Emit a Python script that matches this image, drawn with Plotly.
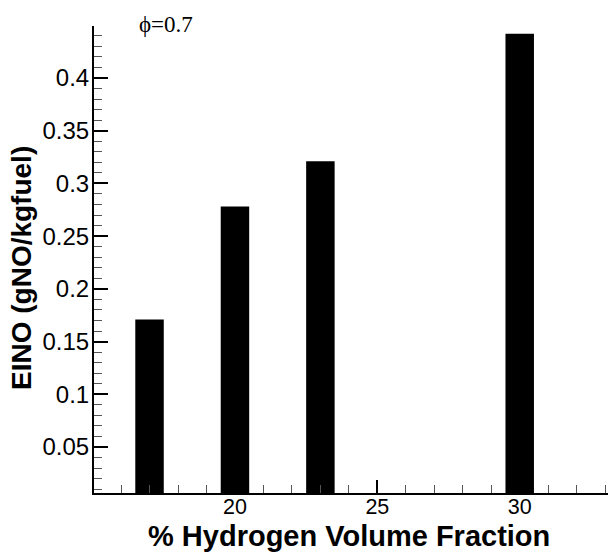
import plotly.graph_objects as go

# Data
h2_fraction = [17, 20, 23, 30]
eino = [0.171, 0.278, 0.321, 0.442]
x_tickvals = [20, 25, 30]
y_tickvals = [0.05, 0.1, 0.15, 0.2, 0.25, 0.3, 0.35, 0.4]
y_ticktext = ["0.05", "0.1", "0.15", "0.2", "0.25", "0.3", "0.35", "0.4"]

W, H = 608, 553
L, R, T, B = 94, 0, 26, 60
PW, PH = W - L - R, H - T - B

fig = go.Figure()
fig.add_trace(go.Bar(
    x=h2_fraction, y=eino, width=1.0,
    marker=dict(color="black", line=dict(width=0)),
    showlegend=False,
))

sans = "Liberation Sans, Arial, sans-serif"

fig.update_layout(
    width=W, height=H,
    margin=dict(l=L, r=R, t=T, b=B, pad=0),
    paper_bgcolor="white", plot_bgcolor="white",
    font=dict(family=sans, color="black"),
    xaxis=dict(
        range=[15.05, 33.1],
        tickvals=x_tickvals,
        ticks="inside", ticklen=13, tickwidth=2, tickcolor="black",
        minor=dict(dtick=1, tick0=0, ticks="inside", ticklen=8, tickwidth=1, tickcolor="#555"),
        showline=True, linewidth=2, linecolor="black", mirror=False,
        showgrid=False, zeroline=False,
        tickfont=dict(size=21.5, family=sans),
        ticklabelstandoff=-7,
        automargin=False,
    ),
    yaxis=dict(
        range=[0.0064, 0.4493],
        tickvals=y_tickvals, ticktext=y_ticktext,
        ticks="inside", ticklen=14, tickwidth=2, tickcolor="black",
        minor=dict(dtick=0.01, tick0=0, ticks="inside", ticklen=8, tickwidth=1, tickcolor="#555"),
        showline=True, linewidth=2, linecolor="black", mirror=False,
        showgrid=False, zeroline=False,
        tickfont=dict(size=24, family=sans),
        ticklabelstandoff=-2,
        automargin=False,
    ),
    annotations=[
        dict(
            text="ϕ=0.7", xref="paper", yref="paper",
            x=(137 - L) / PW, y=1.004,
            xanchor="left", yanchor="middle", showarrow=False,
            font=dict(size=23, family="Liberation Serif, Times New Roman, serif", color="black"),
        ),
        dict(
            text="<b>EINO (gNO/kgfuel)</b>", xref="paper", yref="paper",
            x=(21 - L) / PW, y=1 - (268 - T) / PH,
            xanchor="center", yanchor="middle", textangle=-90, showarrow=False,
            font=dict(size=28, family=sans, color="black"),
        ),
        dict(
            text="<b>% Hydrogen Volume Fraction</b>", xref="paper", yref="paper",
            x=(349 - L) / PW, y=-(536 - (H - B)) / PH,
            xanchor="center", yanchor="middle", showarrow=False,
            font=dict(size=29, family=sans, color="black"),
        ),
    ],
)

fig.write_html("out.html")
